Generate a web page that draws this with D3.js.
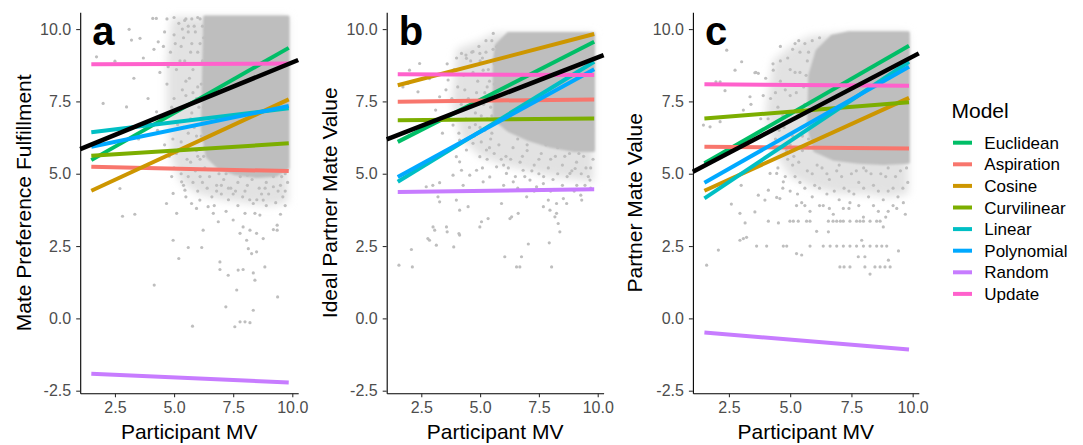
<!DOCTYPE html>
<html><head><meta charset="utf-8">
<script src="https://cdn.jsdelivr.net/npm/d3@7"></script>
<style>
body{margin:0;background:#fff}
text{font-family:"Liberation Sans",Arial,sans-serif}
</style>
</head><body><svg id="chart" width="1083" height="445"></svg>
<script>
// ---------- data ----------
const models = ["Euclidean","Aspiration","Cosine","Curvilinear","Linear","Polynomial","Random","Update"];
const xTicks = [2.5, 5.0, 7.5, 10.0];
const yTicks = [-2.5, 0.0, 2.5, 5.0, 7.5, 10.0];
const panelTags = ["a","b","c"];
const yTitles = ["Mate Preference Fulfillment","Ideal Partner Mate Value","Partner Mate Value"];
const xTitle = "Participant MV";
const legendTitle = "Model";

const fitX = [1.5, 9.85];          // range of model fit lines
const overallX = [1.03, 10.25];    // range of overall (black) line

// model line values at fitX[0] and fitX[1]
const startA = [5.47, 5.24, 4.41, 5.62, 6.43, 5.93, -1.91, 8.78];
const endA   = [9.35, 5.09, 7.57, 6.05, 7.26, 7.34, -2.22, 8.81];
const overallA = [5.85, 8.93];
const startB = [6.10, 7.49, 8.06, 6.85, 4.72, 4.89, 4.37, 8.44];
const endB   = [9.56, 7.57, 9.83, 6.91, 8.87, 8.61, 4.46, 8.41];
const overallB = [6.19, 9.10];
const startC = [5.36, 5.93, 4.41, 6.91, 4.15, 4.69, -0.49, 8.09];
const endC   = [9.42, 5.87, 7.62, 7.47, 8.87, 8.70, -1.08, 8.04];
const overallC = [5.07, 9.16];

// dense core of the participant cloud (outline)
const coreA = [[6.3,10.42],[9.82,10.42],[9.82,5.2],[9.3,4.95],[8.5,4.9],[7.6,5.0],[6.9,5.2],[6.4,5.6],[6.2,6.5],[6.25,8.5]];
const coreB = [[5.6,8.9],[5.7,9.45],[6.2,9.85],[9.82,9.85],[9.82,5.8],[9.0,5.8],[8.0,5.95],[7.0,6.2],[6.2,6.5],[5.6,6.9]];
const coreC = [[5.8,8.4],[6.1,9.25],[6.7,9.75],[7.4,9.87],[9.82,9.87],[9.82,5.4],[8.8,5.35],[7.8,5.4],[6.8,5.5],[6.0,5.8],[5.75,6.6]];
// medium-density zone of the cloud (outline)
const haloA = [[4.9,10.42],[9.82,10.42],[9.82,4.0],[9.0,3.9],[8.0,4.0],[7.0,4.1],[6.0,4.3],[5.3,4.7],[4.9,5.5],[4.7,7.0],[4.7,9.0]];
const haloB = [[4.0,9.3],[5.0,9.6],[5.6,9.85],[9.82,9.85],[9.82,4.7],[9.0,4.8],[8.0,4.9],[7.0,5.1],[6.0,5.3],[5.0,5.6],[4.2,6.2],[3.8,7.5]];
const haloC = [[4.3,8.9],[5.0,9.4],[5.8,9.75],[7.4,9.87],[9.82,9.87],[9.82,4.3],[9.0,4.2],[8.0,4.3],[7.0,4.3],[6.0,4.5],[5.0,4.9],[4.3,5.8],[4.0,7.2]];

// individual participants outside the dense core
const pointsA = [[4.1,10.37],[4.25,10.37],[3.2,9.62],[3.56,9.68],[4.33,9.56],[3.1,9.99],[1.72,9.04],[2.5,8.89],[2.0,7.43],[2.99,7.31],[4.26,7.14],[2.71,4.49],[2.82,3.53],[3.34,3.6],[4.16,1.15],[4.96,2.7],[5.2,2.07],[5.6,2.45],[5.78,-0.27],[6.17,2.45],[4.68,3.97],[4.96,4.32],[5.11,3.63],[5.32,4.72],[5.46,4.43],[6.23,3.05],[6.87,3.34],[6.94,1.95],[6.94,1.69],[7.29,1.49],[7.71,1.67],[7.92,1.69],[8.35,1.57],[8.84,1.78],[8.42,1.32],[7.65,0.98],[7.19,0.4],[8.35,0.28],[7.57,-0.29],[7.79,-0.12],[8.0,-0.12],[8.21,-0.15],[9.38,0.74],[9.2,3.07],[9.36,3.22],[9.36,3.05],[8.77,2.76],[8.49,2.94],[8.21,3.05],[8.07,2.7],[8.14,2.41],[8.28,2.24],[8.49,2.3],[7.79,2.94],[7.92,3.16],[7.5,3.4],[8.0,3.63],[8.42,3.63],[8.63,3.57],[8.35,3.97],[8.77,4.09],[9.2,4.55],[6.66,3.63],[6.44,3.86],[6.09,4.09],[5.95,3.8],[5.74,3.97],
[5.3,5.0],[5.6,4.9],[5.9,5.1],[6.2,4.7],[6.5,4.9],[6.8,4.6],[7.1,4.8],[7.4,4.5],[7.7,4.7],[8.0,4.4],[8.3,4.8],[8.6,4.5],[8.9,4.7],[9.2,4.9],[9.5,4.6],[9.7,5.0],[6.0,4.4],[6.6,4.2],[7.0,4.3],[7.3,4.1],[7.9,4.2],[8.5,4.1],[9.0,4.3],[9.6,4.2],[6.3,5.2],[7.2,5.0],[8.1,4.95],[8.8,5.0],[5.7,5.4],[6.1,5.5],[5.0,5.2],[4.9,4.9],[5.5,4.2],[7.6,4.4],[9.3,4.0],[9.7,4.4],
[4.85,9.2],[5.0,9.8],[5.1,8.6],[5.2,10.2],[5.3,9.4],[5.35,7.9],[5.45,8.9],[5.5,10.35],[5.55,7.4],[5.6,9.9],[5.65,8.3],[5.7,6.9],[5.75,9.5],[5.8,7.8],[5.85,10.1],[5.9,8.8],[5.95,6.3],[6.0,9.2],[6.05,7.3],[6.1,10.35],[6.15,8.1],[6.2,6.8],[6.25,9.7],[6.3,7.7],[6.3,5.9],[5.4,6.6],[5.2,7.2],[4.95,6.2],[5.0,7.6],[4.7,8.1],[4.6,9.9],[4.5,7.0],[4.4,8.5],[4.3,6.5],[4.0,8.8],[3.9,7.6],[4.15,9.3],[3.7,9.0],[3.5,6.2],[3.3,8.3],[4.8,5.6],[4.6,6.0],[5.1,5.7],[5.6,5.9],[6.0,5.6],[4.7,10.35],[5.0,10.4],[5.35,10.0],
[5.05,9.5],[5.25,8.9],[5.4,9.7],[5.5,8.2],[5.6,10.1],[5.7,9.2],[5.8,8.6],[5.9,9.9],[6.0,8.0],[6.1,9.5],[6.2,8.9],[6.25,7.3],[5.5,7.7],[5.75,7.1],[5.95,7.6],[6.15,6.3],[5.85,6.6],[5.6,6.4],[5.3,6.1],[5.15,6.7],[4.9,7.3],[4.75,8.7],[4.55,9.4],[5.45,10.3],[5.75,10.35],[6.0,10.4],[6.2,10.1],[5.95,5.8],[6.25,5.6],[5.55,5.5],
[5.8,4.7],[6.4,4.5],[7.0,4.6],[7.5,4.3],[8.1,4.6],[8.7,4.3],[9.4,4.4],[9.8,4.7],[6.9,5.0],[7.8,4.9],[8.4,5.0],[9.05,5.05],[9.55,4.9],[6.7,3.9],[7.2,3.7],[7.7,3.9],[8.2,4.1],[8.9,3.9],[9.5,3.6],[9.7,3.9],[6.8,4.4],[7.3,4.5],[8.85,4.5],[6.1,4.9],[5.4,4.6]];

const pointsB = [[1.55,1.84],[2.08,2.38],[2.12,1.78],[2.78,2.76],[2.85,2.7],[3.07,3.05],[3.0,3.16],[3.14,2.53],[3.57,3.16],[3.6,2.99],[3.88,2.47],[4.1,2.93],[4.13,2.88],[3.21,4.2],[3.28,4.03],[2.99,4.6],[2.71,4.55],[3.28,4.69],[3.99,4.09],[4.13,3.74],[4.49,3.86],[4.99,3.16],[5.06,3.34],[5.34,3.45],[5.91,3.97],[6.05,2.13],[6.27,3.45],[6.34,3.51],[6.55,1.78],[6.69,1.78],[6.76,2.13],[7.05,2.57],[6.62,3.63],[6.98,4.2],[7.69,3.86],[7.9,4.09],[7.97,3.74],[8.04,1.78],[7.94,2.61],[8.18,3.51],[8.25,3.63],[8.32,3.28],[8.39,2.99],[8.25,3.97],[8.68,3.97],[8.54,4.14],[9.04,5.18],[9.11,4.6],[9.32,4.09],[9.28,4.26],[9.67,4.78],[9.46,4.6],[8.82,5.01],[7.69,4.66],[7.4,4.55],[7.12,4.78],[6.83,5.12],[6.41,4.72],[6.12,5.01],[5.7,5.24],[5.41,4.89],[5.13,4.72],[4.85,5.12],[4.56,4.95],[4.28,4.6],[4.21,5.12],[3.85,4.95],[1.72,8.0],[1.93,8.12],[2.36,7.83],[2.43,8.81],[2.0,8.58],[2.85,8.29],[3.11,7.2],[3.28,7.66],[3.64,8.24],[3.85,6.68],[4.21,9.16],[4.42,8.99],[4.7,9.22],[4.99,9.16],[5.56,9.85],[5.13,8.58],[5.7,9.39],[4.13,6.16],[4.42,5.82],[4.7,6.05],[4.99,5.59],[5.27,5.82],[3.99,5.59],[4.13,5.41],
[4.3,8.4],[4.5,7.6],[4.6,8.9],[4.8,7.1],[4.9,8.2],[5.0,6.6],[5.1,9.0],[5.2,7.8],[5.3,6.9],[5.35,8.6],[5.45,7.3],[5.5,6.4],[5.55,9.3],[5.6,8.1],[4.4,6.9],[4.2,7.4],[4.05,8.0],[3.9,8.6],[3.7,7.0],[3.55,7.9],[4.75,6.3],[5.05,6.1],[5.4,5.9],[4.65,9.2],[4.95,9.4],[5.25,9.6],
[5.8,6.0],[6.1,5.6],[6.4,5.9],[6.7,5.4],[7.0,5.8],[7.3,5.3],[7.6,5.7],[7.9,5.2],[8.2,5.6],[8.5,5.3],[8.8,5.7],[9.1,5.4],[9.4,5.6],[9.7,5.2],[6.2,5.2],[6.9,4.9],[7.5,5.0],[8.1,4.8],[8.7,4.9],[9.3,5.0],[9.6,4.9],[5.9,5.5],[6.6,6.2],[7.8,6.0],
[4.4,9.1],[4.7,8.5],[4.85,7.8],[5.0,8.9],[5.15,7.4],[5.25,9.2],[5.4,8.2],[5.5,7.0],[5.6,8.8],[5.65,7.6],[5.5,9.6],[5.3,8.0],[5.05,7.0],[4.55,6.6],[4.35,7.9],[4.8,6.7],[5.2,6.5],[5.45,6.2],[3.4,6.4],[3.8,7.6],[4.0,9.0],[3.6,8.8],[4.1,6.4],
[5.6,5.7],[6.0,5.3],[6.3,5.5],[6.5,4.9],[6.8,5.6],[7.2,5.1],[7.5,5.5],[7.7,4.9],[8.0,5.5],[8.3,5.0],[8.6,5.6],[8.9,5.1],[9.2,5.7],[9.5,5.2],[9.8,5.5],[6.0,4.6],[6.6,4.5],[7.3,4.4],[8.0,4.4],[8.5,4.6],[9.0,4.4],[9.7,4.5],[5.3,5.5],[5.1,5.2],[7.0,6.0],[8.3,5.9]];

const pointsC = [[2.41,9.27],[3.02,8.87],[2.75,8.58],[3.56,8.49],[3.7,8.47],[4.31,8.58],[1.97,8.18],[2.14,8.18],[2.34,7.87],[3.36,7.66],[1.46,6.68],[1.73,6.62],[2.14,6.8],[3.09,7.2],[1.59,1.84],[2.07,2.36],[2.95,3.63],[3.16,3.3],[2.95,2.7],[3.09,2.76],[3.22,2.8],[3.63,2.5],[4.04,2.5],[4.72,2.5],[4.86,2.5],[5.26,2.24],[5.47,2.19],[5.81,2.5],[6.35,2.5],[6.63,2.5],[6.9,2.5],[7.17,2.5],[7.44,2.5],[7.71,2.5],[7.99,2.5],[8.26,2.5],[8.53,2.5],[8.74,2.5],[8.94,2.5],[9.42,2.33],[7.92,2.7],[7.78,2.13],[8.05,2.13],[7.03,1.78],[7.2,1.78],[7.44,1.78],[8.05,1.78],[8.26,1.53],[8.46,1.78],[8.67,1.78],[8.87,1.78],[9.08,1.78],[9.01,2.01],[4.11,3.36],[4.52,3.3],[4.99,3.36],[5.13,3.36],[5.33,3.36],[5.67,3.36],[5.81,3.36],[6.08,3.01],[6.56,3.36],[6.75,3.36],[6.9,3.36],[7.05,3.36],[7.17,3.36],[7.44,3.36],[7.71,3.36],[7.85,3.36],[7.99,3.36],[8.26,3.36],[8.53,3.36],[8.67,3.36],[8.8,3.16],[6.56,2.99],[3.56,3.68],[3.97,4.09],[4.45,4.18],[4.58,4.14],[3.7,4.26],[4.11,4.43],[4.18,5.01],[4.45,5.01],[4.72,4.72],[5.26,3.9],[5.47,4.0],[5.81,3.7],[6.35,3.9],[6.76,3.6],[7.17,3.8],[7.44,4.0],[7.99,3.5],[8.4,3.9],[8.9,3.5],[9.35,3.8],[9.62,4.0],[2.6,3.95],[3.0,4.6],
[4.3,8.8],[4.5,7.3],[4.6,8.2],[4.75,6.6],[4.9,9.0],[5.0,7.7],[5.1,6.3],[5.2,8.5],[5.3,7.1],[5.4,9.2],[5.45,6.6],[5.55,8.0],[5.6,7.4],[5.7,8.9],[5.75,6.2],[4.4,6.2],[4.2,7.6],[4.0,8.3],[3.8,6.9],[4.85,5.8],[5.15,5.6],[5.5,5.8],[3.6,8.5],[3.4,7.4],[5.35,9.6],[5.6,9.5],[5.9,9.6],[6.2,9.7],
[4.5,5.2],[4.8,4.9],[5.1,5.3],[5.4,4.7],[5.7,5.1],[6.0,4.6],[6.3,5.2],[6.6,4.8],[6.9,5.1],[7.2,4.5],[7.5,5.0],[7.8,4.7],[8.1,5.1],[8.4,4.6],[8.7,5.0],[9.0,4.4],[9.3,4.9],[9.6,4.5],[9.75,5.2],[5.9,4.2],[6.5,4.3],[7.0,4.1],[7.6,4.3],[8.2,4.2],[8.8,4.1],[9.4,4.2],[5.3,4.3],[6.2,3.9],[7.4,3.8],[8.6,3.7],[9.2,3.9],[5.0,4.4],
[4.6,8.9],[4.8,7.9],[5.0,8.6],[5.1,9.3],[5.25,7.8],[5.4,8.5],[5.5,7.2],[5.65,8.4],[5.75,9.2],[5.8,7.0],[5.5,6.3],[5.25,6.9],[5.0,6.0],[4.7,7.0],[4.55,6.5],[4.4,7.8],[4.1,6.9],[3.9,7.7],[4.6,9.4],[5.2,9.5],[5.75,5.9],[5.35,5.4],[4.9,5.5],
[4.7,4.5],[5.2,4.9],[5.6,4.5],[5.9,5.0],[6.2,4.5],[6.5,5.0],[6.8,4.4],[7.1,4.9],[7.4,4.4],[7.7,5.1],[8.0,4.5],[8.3,5.0],[8.6,4.4],[8.9,4.9],[9.2,4.5],[9.5,5.1],[9.8,4.7],[6.1,5.3],[7.0,5.3],[8.0,5.2],[9.0,5.2],[5.6,3.9],[6.6,3.8],[7.8,3.9],[9.0,3.7],[9.7,3.6]];

// ---------- styling / layout ----------
const modelColors = ["#00BE67","#F8766D","#CD9600","#7CAE00","#00BFC4","#00A9FF","#C77CFF","#FF61CC"];
const pointColor = "#BEBEBE";
const haloColor = "#E2E2E2";
const xDomain = [1.03, 10.25];
const yDomain = [-2.59, 10.58];
const plotTop = 12.3, plotBottom = 393.3;
const panels = [
  {left:80.2, right:298.2, titleX:31, start:startA, end:endA, overall:overallA, core:coreA, halo:haloA, pts:pointsA},
  {left:386.7, right:603.6, titleX:337, start:startB, end:endB, overall:overallB, core:coreB, halo:haloB, pts:pointsB},
  {left:692.9, right:918.8, titleX:642, start:startC, end:endC, overall:overallC, core:coreC, halo:haloC, pts:pointsC}
];

const svg = d3.select("#chart");
svg.append("rect").attr("width",1083).attr("height",445).attr("fill","#fff");
const defs = svg.append("defs");
defs.append("filter").attr("id","soft").attr("x","-20%").attr("y","-20%").attr("width","140%").attr("height","140%")
  .append("feGaussianBlur").attr("stdDeviation", 4);
defs.append("filter").attr("id","soft2").attr("x","-10%").attr("y","-10%").attr("width","120%").attr("height","120%")
  .append("feGaussianBlur").attr("stdDeviation", 1.2);

const fmt = d => d.toFixed(1);

panels.forEach((p, k) => {
  const x = d3.scaleLinear().domain(xDomain).range([p.left, p.right]);
  const y = d3.scaleLinear().domain(yDomain).range([plotBottom, plotTop]);
  const g = svg.append("g");
  const area = d3.line().x(d => x(d[0])).y(d => y(d[1])).curve(d3.curveLinearClosed);

  // medium-density zone
  g.append("path").attr("d", area(p.halo)).attr("fill", haloColor).attr("filter", "url(#soft)");
  // dense cloud
  g.append("path").attr("d", area(p.core))
    .attr("fill", pointColor).attr("stroke", pointColor).attr("stroke-width", 3)
    .attr("stroke-linejoin", "round").attr("filter", "url(#soft2)");
  // individual points
  g.selectAll("circle.pt").data(p.pts).join("circle")
    .attr("cx", d => x(d[0])).attr("cy", d => y(d[1])).attr("r", 1.6)
    .attr("fill", pointColor);

  // model lines
  models.forEach((m, i) => {
    g.append("line")
      .attr("x1", x(fitX[0])).attr("y1", y(p.start[i]))
      .attr("x2", x(fitX[1])).attr("y2", y(p.end[i]))
      .attr("stroke", modelColors[i]).attr("stroke-width", 4);
  });
  // overall line
  g.append("line")
    .attr("x1", x(overallX[0])).attr("y1", y(p.overall[0]))
    .attr("x2", x(overallX[1])).attr("y2", y(p.overall[1]))
    .attr("stroke", "#000").attr("stroke-width", 4.5);

  // axes
  const ax = g.append("g").attr("transform", `translate(0,${plotBottom})`)
    .call(d3.axisBottom(x).tickValues(xTicks).tickFormat(fmt).tickSize(4).tickSizeOuter(0).tickPadding(4));
  const ay = g.append("g").attr("transform", `translate(${p.left},0)`)
    .call(d3.axisLeft(y).tickValues(yTicks).tickFormat(fmt).tickSize(4).tickSizeOuter(0).tickPadding(5));
  [ax, ay].forEach(a => {
    a.select(".domain").attr("stroke", "#000").attr("stroke-width", 1.1);
    a.selectAll(".tick line").attr("stroke", "#333").attr("stroke-width", 1.1);
    a.selectAll(".tick text").attr("fill", "#4D4D4D").style("font-size", "16px")
      .style("font-family", '"Liberation Sans",Arial,sans-serif');
  });

  // titles
  g.append("text").attr("x", (p.left + p.right) / 2).attr("y", 439)
    .attr("text-anchor", "middle").style("font-size", "21px").attr("fill", "#000").text(xTitle);
  g.append("text").attr("transform", `translate(${p.titleX},${(plotTop + plotBottom) / 2}) rotate(-90)`)
    .attr("text-anchor", "middle").style("font-size", "21px").attr("fill", "#000").text(yTitles[k]);
  // tag
  g.append("text").attr("x", p.left + 12).attr("y", 45)
    .style("font-size", "40px").style("font-weight", "bold").attr("fill", "#000").text(panelTags[k]);
});

// legend
const lg = svg.append("g");
lg.append("text").attr("x", 951.5).attr("y", 118).style("font-size", "21px").attr("fill", "#000").text(legendTitle);
models.forEach((m, i) => {
  const cy = 142.7 + i * 21.6;
  lg.append("line").attr("x1", 953).attr("x2", 972).attr("y1", cy).attr("y2", cy)
    .attr("stroke", modelColors[i]).attr("stroke-width", 4);
  lg.append("text").attr("x", 984.3).attr("y", cy + 6).style("font-size", "17px").attr("fill", "#000").text(m);
});
</script>
</body></html>
